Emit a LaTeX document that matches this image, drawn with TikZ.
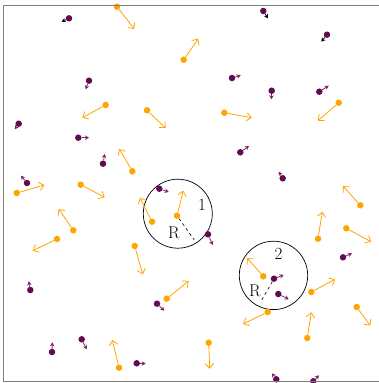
\documentclass[tikz,border=0pt]{standalone}
\usetikzlibrary{arrows.meta}
\definecolor{orng}{RGB}{255,165,0}
\definecolor{pdot}{RGB}{100,10,80}
\definecolor{parr}{RGB}{125,35,105}
\tikzset{
  odot/.style={circle,fill=orng,inner sep=0pt,minimum size=6.5pt},
  pdotst/.style={circle,fill=pdot,inner sep=0pt,minimum size=6.5pt},
  oarr/.style={draw=orng,line width=0.8pt,-{Straight Barb[length=4.5pt,width=8.5pt]}},
  parrst/.style={draw=parr,line width=0.8pt,-{Stealth[length=4pt,width=4.5pt]}},
  barr/.style={draw=black,line width=0.8pt,-{Stealth[length=4pt,width=4.5pt]}},
  zone/.style={draw=black,line width=0.7pt,circle,inner sep=0pt},
  lbl/.style={font=\fontsize{17}{20}\selectfont,inner sep=0pt},
  framest/.style={draw=gray,line width=1.3pt}
}
\newcommand\Op[5]{\node[odot] (#1) at (#2,#3) {}; \coordinate (#1t) at (#4,#5); \draw[oarr] (#1) -- (#1t);}
\newcommand\Pp[5]{\node[pdotst] (#1) at (#2,#3) {}; \coordinate (#1t) at (#4,#5); \draw[parrst] (#1) -- (#1t);}
\newcommand\Pb[5]{\node[pdotst] (#1) at (#2,#3) {}; \coordinate (#1t) at (#4,#5); \draw[barr] (#1) -- (#1t);}
\begin{document}
\begin{tikzpicture}[x=1pt,y=-1pt]
\useasboundingbox (0,0) rectangle (378,383);
% circles
\node[zone,minimum size=69pt] (c1) at (177.8,213.7) {};
\node[zone,minimum size=68.4pt] (c2) at (273.5,275.4) {};
\node[lbl] (l1) at (202,205) {1};
\node[lbl] (l2) at (278.5,254) {2};
\node[lbl] (r1) at (174,232.5) {R};
\node[lbl] (r2) at (255,290.5) {R};
% orange particles
\Op{o1}{117}{6.7}{134.3}{29}
\Op{o2}{183.7}{59.7}{198.3}{38.7}
\Op{o3}{105.7}{105}{82.3}{117.7}
\Op{o4}{147}{110.3}{165.7}{128}
\Op{o5}{224.3}{112.7}{251.7}{117.7}
\Op{o6}{338.7}{102.7}{318}{120.7}
\Op{o7}{132.3}{171.3}{119.3}{149}
\Op{o8}{16.7}{193}{44.3}{185}
\Op{o9}{80.7}{184.7}{104.7}{197.3}
\Op{o10}{177}{215.7}{183.3}{190.7}
\Op{o11}{152}{221.7}{140}{197.7}
\Op{o12}{73.3}{230.3}{58.7}{209}
\Op{o13}{57}{239}{32.7}{250.7}
\Op{o14}{134.7}{246}{142.7}{274.3}
\Op{o15}{360.3}{205.3}{343}{186}
\Op{o16}{318}{238.7}{322.3}{211.7}
\Op{o17}{346.3}{228.3}{371}{241.7}
\Op{o18}{166.7}{298.7}{188.7}{281}
\Op{o19}{119}{367.7}{112.3}{340}
\Op{o20}{263.3}{276.3}{247}{258}
\Op{o21}{311.3}{292}{335}{279.3}
\Op{o22}{267.7}{312}{243}{324}
\Op{o23}{356.7}{307}{370.3}{325.7}
\Op{o24}{307.3}{338}{311.3}{312.3}
\Op{o25}{208.7}{342.7}{209.7}{368.7}
% purple particles
\Pb{p1}{69}{18.3}{61.7}{21.7}
\Pb{p2}{263.3}{11}{268}{18.3}
\Pb{p3}{327}{34.7}{321.3}{41.7}
\Pp{p4}{89}{80.7}{85.7}{89.3}
\Pp{p5}{232}{78}{240.7}{75.3}
\Pp{p6}{271.7}{90.7}{271.3}{99.3}
\Pp{p7}{319.3}{91.7}{328.7}{85.7}
\Pp{p8}{18.7}{123.7}{14.7}{129.3}
\Pp{p9}{78.3}{137.7}{89}{137.7}
\Pp{p10}{103}{163.7}{104.7}{154}
\Pp{p11}{27}{183}{21}{175.7}
\Pp{p12}{159.3}{188.7}{168.7}{192}
\Pp{p13}{240.3}{152.3}{249}{146}
\Pp{p14}{282.7}{178.3}{278.7}{171.7}
\Pp{p15}{208}{234.3}{212.7}{245}
\Pp{p16}{343}{257.3}{352}{253.3}
\Pp{p17}{30.3}{290}{28.7}{281.3}
\Pp{p18}{157}{303.7}{164.3}{310.7}
\Pp{p19}{81.7}{339.3}{86.7}{349.3}
\Pp{p20}{52}{352}{52.3}{342.3}
\Pp{p21}{136.7}{363.3}{145.7}{363.7}
\Pp{p22}{274}{278.7}{283.7}{275}
\Pp{p23}{278.3}{294}{288.7}{299.3}
\Pp{p24}{276.3}{379.3}{272}{373.3}
\Pp{p25}{313.3}{381.3}{319}{375.3}
% radius lines
\coordinate (e1) at (194.3,240);
\coordinate (e2) at (261,301.3);
\draw[dashed,line width=0.6pt] (o10) -- (e1);
\draw[dashed,line width=0.6pt] (p22) -- (e2);
% frame
\coordinate (f1) at (380,5.7);
\coordinate (f2) at (3.7,5.7);
\coordinate (f3) at (3.7,381.7);
\coordinate (f4) at (380,381.7);
\draw[framest] (f1) -- (f2) -- (f3) -- (f4);
\end{tikzpicture}
\end{document}
